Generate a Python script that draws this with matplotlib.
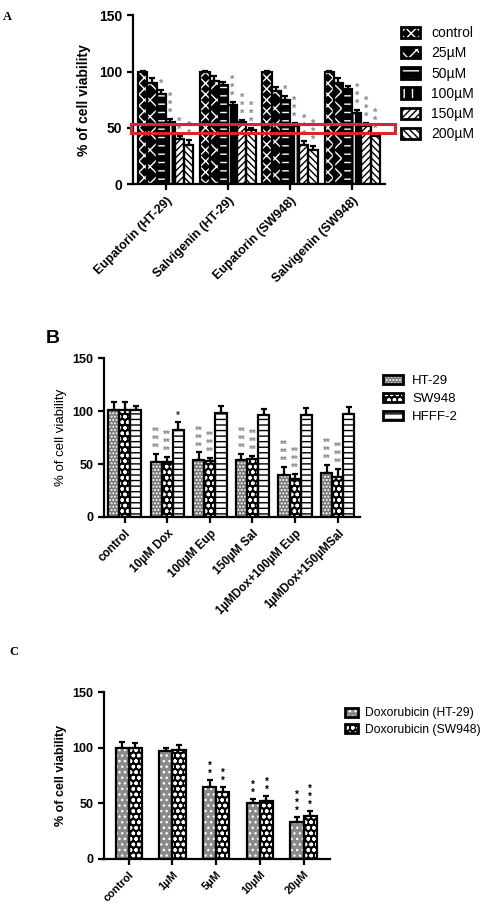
import numpy as np
import matplotlib.pyplot as plt
from matplotlib.patches import Patch, Rectangle

plt.rcParams['font.family'] = ['Liberation Sans', 'DejaVu Sans']
plt.rcParams['hatch.linewidth'] = 1.0

# ---- panel A data
a_groups = ['Eupatorin (HT-29)', 'Salvigenin (HT-29)', 'Eupatorin (SW948)', 'Salvigenin (SW948)']
a_series = ['control', '25µM', '50µM', '100µM', '150µM', '200µM']
a_vals = [[100, 90, 80, 55, 40, 35],
          [100, 92, 88, 70, 55, 48],
          [100, 83, 75, 52, 35, 30],
          [100, 90, 85, 63, 52, 43]]
a_err = [[1, 4, 4, 3, 3, 4],
         [1, 4, 3, 3, 2, 2],
         [1, 3, 3, 2, 3, 4],
         [1, 4, 2, 3, 2, 1]]
a_stars = [[0, 0, 1, 3, 2, 2],
           [0, 0, 0, 3, 3, 3],
           [0, 0, 1, 3, 3, 3],
           [0, 0, 0, 3, 3, 3]]

# ---- panel B data
b_groups = ['control', '10µM Dox', '100µM Eup', '150µM Sal', '1µMDox+100µM Eup', '1µMDox+150µMSal']
b_series = ['HT-29', 'SW948', 'HFFF-2']
b_vals = [[101, 101, 101], [52, 52, 82], [54, 53, 98], [54, 55, 96], [40, 36, 96], [42, 38, 97]]
b_err = [[8, 8, 4], [8, 5, 8], [7, 3, 7], [6, 3, 6], [7, 5, 7], [7, 7, 7]]
b_stars = [[0, 0, 0], [3, 3, 1], [3, 3, 0], [3, 3, 0], [3, 3, 0], [3, 3, 0]]

# ---- panel C data
c_groups = ['control', '1µM', '5µM', '10µM', '20µM']
c_series = ['Doxorubicin (HT-29)', 'Doxorubicin (SW948)']
c_vals = [[100, 100], [97, 98], [65, 60], [50, 52], [33, 39]]
c_err = [[5, 4], [3, 4], [6, 5], [4, 5], [5, 4]]
c_stars = [[0, 0], [0, 0], [2, 2], [2, 2], [3, 3]]

# face, hatch, hatch colour
a_style = [('black', 'xxx', 'white'), ('black', 'xx', 'white'), ('black', '--', 'white'),
           ('black', '||', 'white'), ('white', '/////', 'black'), ('white', '\\\\\\\\\\', 'black')]
b_style = [('#777777', '.....', 'white'), ('black', 'ooo', 'white'), ('white', '---', 'black')]
c_style = [('#8a8a8a', '...', 'white'), ('black', 'ooo', 'white')]


def bars(ax, vals, err, stars, styles, width, star_col, star_fs, star_two=False):
    vals = np.array(vals)
    err = np.array(err)
    ng, ns = vals.shape
    x = np.arange(ng)
    for j in range(ns):
        xs = x + (j - (ns - 1) / 2) * width
        fc, h, hc = styles[j]
        ax.errorbar(xs, vals[:, j], yerr=[np.zeros(ng), err[:, j]], fmt='none',
                    ecolor='black', elinewidth=1.6, capsize=2, capthick=1.6, zorder=1)
        ax.bar(xs, vals[:, j], width, color=fc, hatch=h, edgecolor=hc, linewidth=0, zorder=2)
        ax.bar(xs, vals[:, j], width, fill=False, edgecolor='black', linewidth=1.6, zorder=3)
        for i in range(ng):
            n = stars[i][j]
            if n:
                s = '**' if (star_two and n > 1) else '*'
                col = star_col if n > 1 or not star_two else '#333333'
                ax.text(xs[i], vals[i, j] + err[i, j] + 1, '\n'.join([s] * n),
                        ha='center', va='bottom', fontsize=star_fs, color=col,
                        linespacing=0.75, fontweight='bold')
    ax.set_xticks(x)
    ax.set_ylim(0, 150)
    ax.set_yticks([0, 50, 100, 150])
    for s in ['top', 'right']:
        ax.spines[s].set_visible(False)
    for s in ['left', 'bottom']:
        ax.spines[s].set_linewidth(1.6)
    ax.tick_params(width=1.6, length=4)
    for t in ax.get_yticklabels():
        t.set_fontweight('bold')


def legend_handles(styles):
    # filled hatch patch with a black frame drawn over it
    return [(Patch(facecolor=fc, hatch=h, edgecolor=hc, linewidth=0),
             Patch(fill=False, edgecolor='black', linewidth=2)) for fc, h, hc in styles]


fig = plt.figure(figsize=(4.85, 9.07), dpi=100)

# Panel A
axA = fig.add_axes([0.274, 0.797, 0.520, 0.186])
bars(axA, a_vals, a_err, a_stars, a_style, 0.148, '#888888', 8)
axA.set_xlim(-0.53, 3.53)
axA.set_xticklabels(a_groups, rotation=45, ha='right', rotation_mode='anchor',
                    fontsize=9, fontweight='bold')
axA.tick_params(axis='y', labelsize=10)
axA.set_ylabel('% of cell viability', fontsize=10, fontweight='bold', labelpad=6)
axA.add_patch(Rectangle((-0.56, 45.3), 4.255, 7.9, fill=False, edgecolor='#d9262b',
                        linewidth=2.2, clip_on=False, zorder=5))
axA.legend(legend_handles(a_style), a_series, loc='upper left', bbox_to_anchor=(0.80, 0.985),
           bbox_transform=fig.transFigure, frameon=False, fontsize=10, handlelength=1.4,
           handleheight=0.9, labelspacing=0.45, handletextpad=0.8)
fig.text(0.005, 0.988, 'A', fontsize=9, fontweight='bold', family='Liberation Serif', va='top')

# Panel B
axB = fig.add_axes([0.214, 0.430, 0.528, 0.175])
bars(axB, b_vals, b_err, b_stars, b_style, 0.26, '#888888', 7, star_two=True)
axB.set_xlim(-0.49, 5.52)
axB.set_xticklabels(b_groups, rotation=45, ha='right', rotation_mode='anchor',
                    fontsize=8.5, fontweight='bold')
axB.tick_params(axis='y', labelsize=9)
axB.set_ylabel('% of cell viability', fontsize=9.5, labelpad=4)
axB.legend(legend_handles(b_style), b_series, loc='upper left', bbox_to_anchor=(0.765, 0.600),
           bbox_transform=fig.transFigure, frameon=False, fontsize=9.5, handlelength=1.5,
           handleheight=0.7, labelspacing=0.45, handletextpad=0.7)
fig.text(0.095, 0.627, 'B', fontsize=14, fontweight='bold', va='center')

# Panel C
axC = fig.add_axes([0.214, 0.053, 0.466, 0.184])
bars(axC, c_vals, c_err, c_stars, c_style, 0.30, 'black', 7)
axC.set_xlim(-0.57, 4.6)
axC.set_xticklabels(c_groups, rotation=45, ha='right', rotation_mode='anchor',
                    fontsize=8, fontweight='bold')
axC.tick_params(axis='y', labelsize=9)
axC.set_ylabel('% of cell viability', fontsize=9, fontweight='bold', labelpad=4)
axC.legend(legend_handles(c_style), c_series, loc='upper left', bbox_to_anchor=(0.688, 0.232),
           bbox_transform=fig.transFigure, frameon=False, fontsize=8.7, handlelength=1.1,
           handleheight=0.8, labelspacing=0.35, handletextpad=0.6)
fig.text(0.02, 0.281, 'C', fontsize=9, fontweight='bold', family='Liberation Serif', va='center')

fig.savefig('out.png', dpi=100)
